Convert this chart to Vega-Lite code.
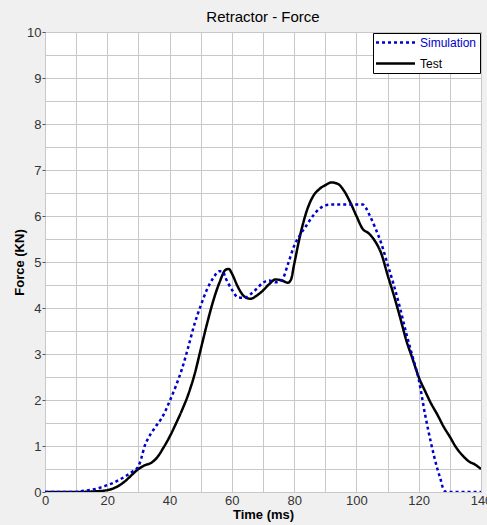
{
  "$schema": "https://vega.github.io/schema/vega-lite/v6.json",
  "autosize": {"type": "none"},
  "width": 436,
  "height": 460,
  "padding": {"left": 45, "top": 32, "right": 6, "bottom": 33},
  "background": "#f0f0f0",
  "title": {"text": "Retractor - Force", "fontSize": 15, "fontWeight": "normal", "font": "Liberation Sans", "color": "black", "offset": 1, "anchor": "middle"},
  "config": {
    "view": {"fill": "white", "stroke": "#404040", "strokeWidth": 1},
    "axis": {"labelFont": "Liberation Sans", "labelFontSize": 13, "labelColor": "#333", "titleFont": "Liberation Sans", "titleFontSize": 13, "titleFontWeight": "bold", "titleColor": "black", "gridColor": "#c8c8c8", "gridWidth": 1, "tickColor": "#555", "domain": false}
  },
  "data": {"values": [
    {"t": 0, "f": 0, "s": "Test"},
    {"t": 10, "f": 0, "s": "Test"},
    {"t": 15, "f": 0.01, "s": "Test"},
    {"t": 20, "f": 0.04, "s": "Test"},
    {"t": 22, "f": 0.08, "s": "Test"},
    {"t": 24, "f": 0.15, "s": "Test"},
    {"t": 26, "f": 0.25, "s": "Test"},
    {"t": 28, "f": 0.38, "s": "Test"},
    {"t": 30, "f": 0.5, "s": "Test"},
    {"t": 32, "f": 0.58, "s": "Test"},
    {"t": 34, "f": 0.63, "s": "Test"},
    {"t": 36, "f": 0.75, "s": "Test"},
    {"t": 38, "f": 0.96, "s": "Test"},
    {"t": 40, "f": 1.2, "s": "Test"},
    {"t": 42, "f": 1.48, "s": "Test"},
    {"t": 44, "f": 1.78, "s": "Test"},
    {"t": 46, "f": 2.12, "s": "Test"},
    {"t": 48, "f": 2.55, "s": "Test"},
    {"t": 50, "f": 3.1, "s": "Test"},
    {"t": 52, "f": 3.65, "s": "Test"},
    {"t": 54, "f": 4.15, "s": "Test"},
    {"t": 56, "f": 4.55, "s": "Test"},
    {"t": 58, "f": 4.83, "s": "Test"},
    {"t": 59, "f": 4.85, "s": "Test"},
    {"t": 60, "f": 4.75, "s": "Test"},
    {"t": 62, "f": 4.45, "s": "Test"},
    {"t": 64, "f": 4.25, "s": "Test"},
    {"t": 66, "f": 4.2, "s": "Test"},
    {"t": 68, "f": 4.27, "s": "Test"},
    {"t": 70, "f": 4.38, "s": "Test"},
    {"t": 72, "f": 4.52, "s": "Test"},
    {"t": 74, "f": 4.62, "s": "Test"},
    {"t": 76, "f": 4.6, "s": "Test"},
    {"t": 78, "f": 4.55, "s": "Test"},
    {"t": 79, "f": 4.62, "s": "Test"},
    {"t": 80, "f": 4.95, "s": "Test"},
    {"t": 82, "f": 5.6, "s": "Test"},
    {"t": 84, "f": 6.1, "s": "Test"},
    {"t": 86, "f": 6.42, "s": "Test"},
    {"t": 88, "f": 6.58, "s": "Test"},
    {"t": 90, "f": 6.67, "s": "Test"},
    {"t": 92, "f": 6.73, "s": "Test"},
    {"t": 94, "f": 6.7, "s": "Test"},
    {"t": 96, "f": 6.55, "s": "Test"},
    {"t": 98, "f": 6.3, "s": "Test"},
    {"t": 100, "f": 6.0, "s": "Test"},
    {"t": 102, "f": 5.72, "s": "Test"},
    {"t": 104, "f": 5.62, "s": "Test"},
    {"t": 106, "f": 5.45, "s": "Test"},
    {"t": 108, "f": 5.18, "s": "Test"},
    {"t": 110, "f": 4.72, "s": "Test"},
    {"t": 112, "f": 4.28, "s": "Test"},
    {"t": 114, "f": 3.8, "s": "Test"},
    {"t": 116, "f": 3.3, "s": "Test"},
    {"t": 118, "f": 2.9, "s": "Test"},
    {"t": 120, "f": 2.5, "s": "Test"},
    {"t": 122, "f": 2.2, "s": "Test"},
    {"t": 124, "f": 1.92, "s": "Test"},
    {"t": 126, "f": 1.68, "s": "Test"},
    {"t": 128, "f": 1.42, "s": "Test"},
    {"t": 130, "f": 1.2, "s": "Test"},
    {"t": 132, "f": 0.97, "s": "Test"},
    {"t": 134, "f": 0.8, "s": "Test"},
    {"t": 136, "f": 0.67, "s": "Test"},
    {"t": 138, "f": 0.6, "s": "Test"},
    {"t": 140, "f": 0.5, "s": "Test"},
    {"t": 0, "f": 0, "s": "Simulation"},
    {"t": 10, "f": 0, "s": "Simulation"},
    {"t": 12, "f": 0.02, "s": "Simulation"},
    {"t": 15, "f": 0.05, "s": "Simulation"},
    {"t": 18, "f": 0.1, "s": "Simulation"},
    {"t": 20, "f": 0.15, "s": "Simulation"},
    {"t": 22, "f": 0.2, "s": "Simulation"},
    {"t": 24, "f": 0.27, "s": "Simulation"},
    {"t": 26, "f": 0.35, "s": "Simulation"},
    {"t": 28, "f": 0.44, "s": "Simulation"},
    {"t": 30, "f": 0.56, "s": "Simulation"},
    {"t": 31, "f": 0.75, "s": "Simulation"},
    {"t": 32, "f": 1.0, "s": "Simulation"},
    {"t": 33, "f": 1.15, "s": "Simulation"},
    {"t": 35, "f": 1.37, "s": "Simulation"},
    {"t": 38, "f": 1.67, "s": "Simulation"},
    {"t": 40, "f": 1.97, "s": "Simulation"},
    {"t": 42, "f": 2.3, "s": "Simulation"},
    {"t": 44, "f": 2.68, "s": "Simulation"},
    {"t": 46, "f": 3.15, "s": "Simulation"},
    {"t": 48, "f": 3.65, "s": "Simulation"},
    {"t": 50, "f": 4.05, "s": "Simulation"},
    {"t": 52, "f": 4.4, "s": "Simulation"},
    {"t": 54, "f": 4.65, "s": "Simulation"},
    {"t": 56, "f": 4.8, "s": "Simulation"},
    {"t": 57, "f": 4.8, "s": "Simulation"},
    {"t": 58, "f": 4.65, "s": "Simulation"},
    {"t": 60, "f": 4.4, "s": "Simulation"},
    {"t": 62, "f": 4.23, "s": "Simulation"},
    {"t": 64, "f": 4.22, "s": "Simulation"},
    {"t": 66, "f": 4.3, "s": "Simulation"},
    {"t": 68, "f": 4.42, "s": "Simulation"},
    {"t": 70, "f": 4.55, "s": "Simulation"},
    {"t": 72, "f": 4.6, "s": "Simulation"},
    {"t": 74, "f": 4.56, "s": "Simulation"},
    {"t": 76, "f": 4.6, "s": "Simulation"},
    {"t": 78, "f": 4.95, "s": "Simulation"},
    {"t": 80, "f": 5.35, "s": "Simulation"},
    {"t": 82, "f": 5.6, "s": "Simulation"},
    {"t": 84, "f": 5.8, "s": "Simulation"},
    {"t": 86, "f": 6.0, "s": "Simulation"},
    {"t": 88, "f": 6.15, "s": "Simulation"},
    {"t": 90, "f": 6.23, "s": "Simulation"},
    {"t": 92, "f": 6.25, "s": "Simulation"},
    {"t": 100, "f": 6.25, "s": "Simulation"},
    {"t": 102, "f": 6.25, "s": "Simulation"},
    {"t": 103, "f": 6.18, "s": "Simulation"},
    {"t": 104, "f": 6.05, "s": "Simulation"},
    {"t": 106, "f": 5.75, "s": "Simulation"},
    {"t": 108, "f": 5.4, "s": "Simulation"},
    {"t": 110, "f": 4.95, "s": "Simulation"},
    {"t": 112, "f": 4.5, "s": "Simulation"},
    {"t": 114, "f": 4.0, "s": "Simulation"},
    {"t": 116, "f": 3.45, "s": "Simulation"},
    {"t": 118, "f": 2.95, "s": "Simulation"},
    {"t": 120, "f": 2.45, "s": "Simulation"},
    {"t": 122, "f": 1.7, "s": "Simulation"},
    {"t": 124, "f": 1.05, "s": "Simulation"},
    {"t": 126, "f": 0.5, "s": "Simulation"},
    {"t": 127, "f": 0.28, "s": "Simulation"},
    {"t": 128, "f": 0.05, "s": "Simulation"},
    {"t": 129, "f": 0, "s": "Simulation"},
    {"t": 140, "f": 0, "s": "Simulation"}
  ]},
  "mark": {"type": "line", "interpolate": "monotone", "strokeWidth": 2.5, "clip": true},
  "encoding": {
    "x": {"field": "t", "type": "quantitative", "scale": {"domain": [0, 140], "nice": false},
      "axis": {"title": "Time (ms)", "values": [0,10,20,30,40,50,60,70,80,90,100,110,120,130,140], "labelExpr": "datum.value % 20 == 0 ? datum.label : ''", "ticks": false, "labelPadding": 2, "titlePadding": 1, "labelFlush": false}},
    "y": {"field": "f", "type": "quantitative", "scale": {"domain": [0, 10], "nice": false},
      "axis": {"title": "Force (KN)", "values": [0,0.5,1,1.5,2,2.5,3,3.5,4,4.5,5,5.5,6,6.5,7,7.5,8,8.5,9,9.5,10], "labelExpr": "datum.value % 1 == 0 ? format(datum.value, 'd') : ''", "tickSize": 3, "tickOpacity": {"condition": {"test": "datum.value % 1 == 0", "value": 1}, "value": 0}, "labelPadding": 1, "titlePadding": 0, "labelFlush": false}},
    "color": {"field": "s", "type": "nominal", "scale": {"domain": ["Simulation", "Test"], "range": ["#0000cc", "black"]},
      "legend": {"title": null, "orient": "top-right", "offset": 1, "strokeColor": "black", "fillColor": "white", "padding": 3, "rowPadding": 8, "labelOffset": 31, "symbolType": "M-1.33,0H6.67", "symbolSize": 95, "symbolStrokeWidth": 2.5, "labelFont": "Liberation Sans", "labelFontSize": 12,
        "encode": {"labels": {"update": {"fill": {"signal": "datum.value === 'Simulation' ? '#0000cc' : 'black'"}}}}}},
    "strokeDash": {"field": "s", "type": "nominal", "scale": {"domain": ["Simulation", "Test"], "range": [[3, 3], [1, 0]]},
      "legend": {"title": null}}
  }
}
